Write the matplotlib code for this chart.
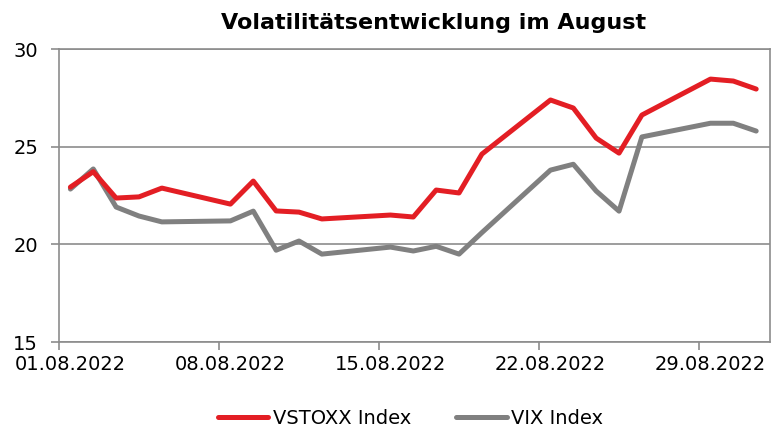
import matplotlib.pyplot as plt

# trading days in August 2022 (day of month)
days = [1, 2, 3, 4, 5, 8, 9, 10, 11, 12, 15, 16, 17, 18, 19,
        22, 23, 24, 25, 26, 29, 30, 31]
vstoxx = [22.93, 23.72, 22.37, 22.43, 22.88, 22.06, 23.24, 21.71, 21.65, 21.30,
          21.50, 21.40, 22.78, 22.63, 24.62, 27.39, 26.98, 25.44, 24.67, 26.62,
          28.46, 28.36, 27.95]
vix = [22.83, 23.86, 21.91, 21.45, 21.15, 21.20, 21.70, 19.70, 20.17, 19.50,
       19.86, 19.66, 19.90, 19.50, 20.60, 23.80, 24.10, 22.73, 21.70, 25.50,
       26.20, 26.20, 25.80]
tick_days = [1, 8, 15, 22, 29]
tick_labels = ['01.08.2022', '08.08.2022', '15.08.2022', '22.08.2022', '29.08.2022']

red = '#e31e24'
grey = '#808080'
axis_col = '#8c8c8c'

fig = plt.figure(figsize=(7.73, 4.28), dpi=100)
ax = fig.add_axes([0.0763, 0.2009, 0.9197, 0.6846])

ax.plot(days, vstoxx, color=red, lw=3.6, solid_joinstyle='round',
        solid_capstyle='round', label='VSTOXX Index', zorder=3)
ax.plot(days, vix, color=grey, lw=3.6, solid_joinstyle='round',
        solid_capstyle='round', label='VIX Index', zorder=2)

ax.set_xlim(0.5, 31.6)
ax.set_ylim(15, 30)
ax.set_yticks([15, 20, 25, 30])
ax.yaxis.grid(True, color=axis_col, lw=1.2)
ax.set_axisbelow(True)

# tick marks at the start of each day slot, labels at the slot centre
ax.set_xticks([d - 0.5 for d in tick_days])
ax.set_xticklabels([])
ax.set_xticks(tick_days, minor=True)
ax.set_xticklabels(tick_labels, minor=True)
ax.tick_params(axis='x', which='major', length=6, width=1.2, color=axis_col)
ax.tick_params(axis='x', which='minor', length=0, pad=9, labelsize=14)
ax.tick_params(axis='y', length=6, width=1.2, color=axis_col, pad=9, labelsize=14)

for s in ax.spines.values():
    s.set_color(axis_col)
    s.set_linewidth(1.2)

fig.text(0.561, 0.947, 'Volatilitätsentwicklung im August', ha='center',
         va='center', fontsize=16, fontweight='bold')

fig.legend(loc='center', bbox_to_anchor=(0.531, 0.023), ncol=2, frameon=False,
           fontsize=14, handlelength=2.6, handletextpad=0.25, columnspacing=2.3)

fig.savefig('out.png', dpi=100)
